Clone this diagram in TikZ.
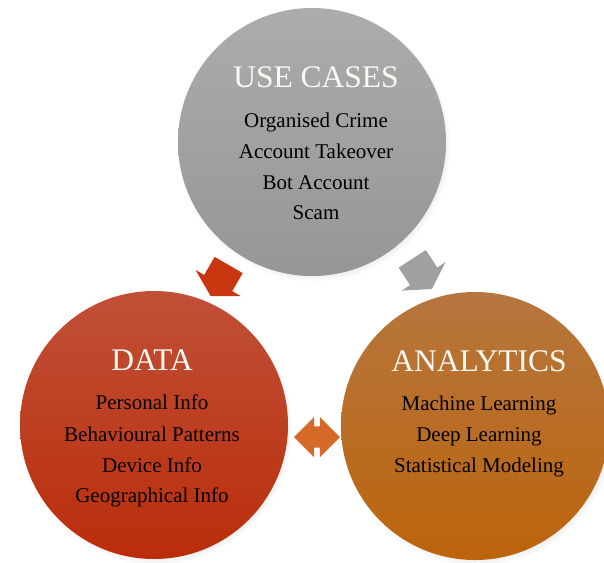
\documentclass[tikz,border=0pt]{standalone}
\usepackage{fontspec}
\setmainfont{Liberation Serif}
\usetikzlibrary{shapes.arrows,shadows,calc}
\definecolor{ucgraytop}{RGB}{172,172,172}
\definecolor{ucgraybot}{RGB}{150,150,150}
\definecolor{dataredtop}{RGB}{192,80,55}
\definecolor{dataredbot}{RGB}{186,45,10}
\definecolor{anaorgtop}{RGB}{182,118,62}
\definecolor{anaorgbot}{RGB}{188,100,12}
\definecolor{arrowred}{RGB}{200,55,15}
\definecolor{arrowgray}{RGB}{160,160,160}
\definecolor{arroworg}{RGB}{212,105,40}
\definecolor{headwhite}{RGB}{252,248,242}
\begin{document}
\begin{tikzpicture}[x=1pt, y=-1pt,
        bubble/.style={circle, minimum size=268pt, inner sep=0pt,
            circular drop shadow={shadow xshift=2pt, shadow yshift=-3pt,
                shadow scale=1.02, opacity=0.35}},
        heading/.style={anchor=base, text=headwhite, font=\fontsize{31.5}{34}\selectfont},
        entry/.style={anchor=base, text=black, font=\fontsize{21}{24}\selectfont},
        cyclearrow/.style={single arrow, minimum height=36pt, inner xsep=0pt, inner ysep=16pt,
            single arrow head extend=10pt, single arrow tip angle=120},
        swaparrow/.style={double arrow, minimum height=46pt, inner xsep=0pt, inner ysep=10.5pt,
            double arrow head extend=9.5pt, double arrow tip angle=90}]
    \useasboundingbox (0, 0) rectangle (604, 562);
    % the three circles
    \node[bubble, top color=ucgraytop, bottom color=ucgraybot] (usecases) at (312, 142) {};
    \node[bubble, top color=dataredtop, bottom color=dataredbot] (data) at (154, 425) {};
    \node[bubble, top color=anaorgtop, bottom color=anaorgbot] (analytics) at (475, 426) {};
    % arrows between them
    \node[cyclearrow, fill=arrowred, rotate=240] (ucdata) at ($(usecases)!0.5!(data)+(-11,-7)$) {};
    \node[cyclearrow, fill=arrowgray, rotate=-57] (ucana) at ($(usecases)!0.5!(analytics)+(26,-14)$) {};
    \node[swaparrow, fill=arroworg] (dataana) at (317, 437) {};
    % use cases
    \node[heading] (uctitle) at (316, 87) {USE CASES};
    \node[entry] (uc1) at (316, 127) {Organised Crime};
    \node[entry] (uc2) at (316, 158) {Account Takeover};
    \node[entry] (uc3) at (316, 189) {Bot Account};
    \node[entry] (uc4) at (316, 219) {Scam};
    % data
    \node[heading] (datatitle) at (152, 370) {DATA};
    \node[entry] (data1) at (152, 409) {Personal Info};
    \node[entry] (data2) at (152, 441) {Behavioural Patterns};
    \node[entry] (data3) at (152, 472) {Device Info};
    \node[entry] (data4) at (152, 502) {Geographical Info};
    % analytics
    \node[heading] (anatitle) at (479, 371) {ANALYTICS};
    \node[entry] (ana1) at (479, 410) {Machine Learning};
    \node[entry] (ana2) at (479, 441) {Deep Learning};
    \node[entry] (ana3) at (479, 472) {Statistical Modeling};
\end{tikzpicture}
\end{document}
